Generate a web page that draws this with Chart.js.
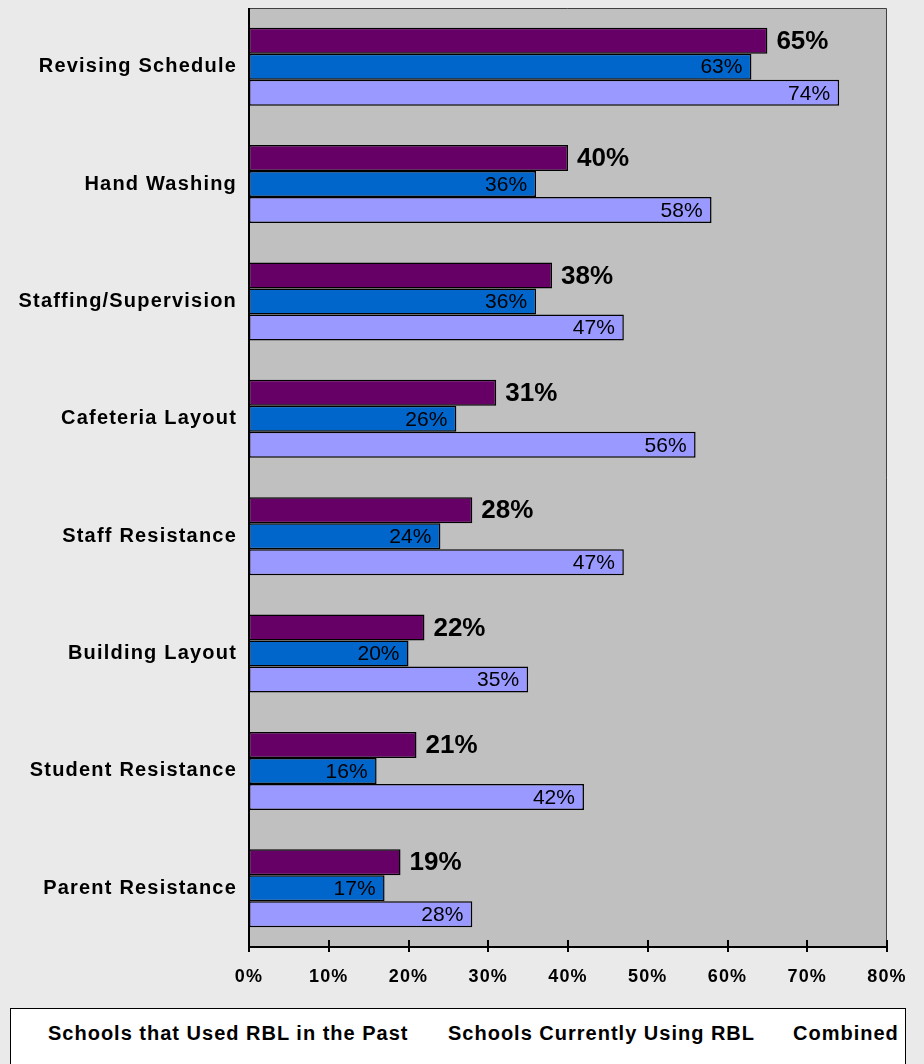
<!DOCTYPE html>
<html>
<head>
<meta charset="utf-8">
<script src="https://cdn.jsdelivr.net/npm/chart.js@4"></script>
<style>
  html, body { margin: 0; padding: 0; background: #eaeaea; overflow: hidden; }
  #wrap { position: relative; width: 924px; height: 1064px; }
  #chartBox { position: absolute; left: 0; top: 0; width: 924px; height: 1000px; }
  #legendBox {
    position: absolute; left: 10px; top: 1008px; width: 896px; height: 70px;
    background: #fff; border: 1px solid #000; box-sizing: border-box;
    font-family: "Liberation Sans", Arial, sans-serif; font-weight: bold;
    font-size: 20px; letter-spacing: 1px; color: #000;
  }
  #legendBox span { position: absolute; top: 13px; white-space: nowrap; }
</style>
</head>
<body>
<div id="wrap">
  <div id="chartBox"><canvas id="chart"></canvas></div>
  <div id="legendBox">
    <span style="left:37px">Schools that Used RBL in the Past</span>
    <span style="left:437px">Schools Currently Using RBL</span>
    <span style="left:782px">Combined</span>
  </div>
</div>
<script>
const categories = ['Revising Schedule', 'Hand Washing', 'Staffing/Supervision', 'Cafeteria Layout',
    'Staff Resistance', 'Building Layout', 'Student Resistance', 'Parent Resistance'];
const pastValues = [65, 40, 38, 31, 28, 22, 21, 19];
const currentValues = [63, 36, 36, 26, 24, 20, 16, 17];
const combinedValues = [74, 58, 47, 56, 47, 35, 42, 28];
const seriesNames = ['Schools that Used RBL in the Past', 'Schools Currently Using RBL', 'Combined'];
const xTicks = [0, 10, 20, 30, 40, 50, 60, 70, 80];

const FONT = '"Liberation Sans", Arial, sans-serif';

// plot background + frame + crossing tick marks
const plotFrame = {
    id: 'plotFrame',
    beforeDraw(chart) {
        const { ctx, chartArea: a } = chart;
        ctx.letterSpacing = '1.2px';
        ctx.save();
        ctx.fillStyle = '#c0c0c0';
        ctx.fillRect(a.left, a.top, a.right - a.left, a.bottom - a.top);
        ctx.strokeStyle = '#404040';
        ctx.lineWidth = 1;
        ctx.beginPath();
        ctx.moveTo(a.left, a.top + 0.5);
        ctx.lineTo(a.right - 0.5, a.top + 0.5);
        ctx.lineTo(a.right - 0.5, a.bottom);
        ctx.stroke();
        ctx.restore();
    },
    afterDatasetsDraw(chart) {
        const { ctx, chartArea: a } = chart;
        const xs = chart.scales.x;
        ctx.save();
        ctx.strokeStyle = '#000';
        ctx.lineWidth = 2;
        ctx.beginPath();
        ctx.moveTo(a.left, a.top);
        ctx.lineTo(a.left, a.bottom);
        ctx.lineTo(a.right, a.bottom);
        ctx.stroke();
        ctx.lineWidth = 2;
        xTicks.forEach(v => {
            const px = Math.round(xs.getPixelForValue(v));
            ctx.beginPath();
            ctx.moveTo(px, a.bottom - 7);
            ctx.lineTo(px, a.bottom + 5);
            ctx.stroke();
        });
        ctx.restore();
    }
};

// value labels on bars
const barLabels = {
    id: 'barLabels',
    afterDatasetsDraw(chart) {
        const { ctx } = chart;
        ctx.save();
        ctx.letterSpacing = '0px';
        ctx.fillStyle = '#000';
        ctx.textBaseline = 'middle';
        chart.data.datasets.forEach((ds, i) => {
            const meta = chart.getDatasetMeta(i);
            meta.data.forEach((bar, j) => {
                const txt = ds.data[j] + '%';
                if (i === 0) {
                    ctx.font = 'bold 26px ' + FONT;
                    ctx.textAlign = 'left';
                    ctx.fillText(txt, bar.x + 9, bar.y + 1);
                } else {
                    ctx.font = '21px ' + FONT;
                    ctx.textAlign = 'right';
                    ctx.fillText(txt, bar.x - 9, bar.y + 1);
                }
            });
        });
        ctx.restore();
    }
};

new Chart(document.getElementById('chart'), {
    type: 'bar',
    data: {
        labels: categories,
        datasets: [
            { label: seriesNames[0], data: pastValues, backgroundColor: '#660066' },
            { label: seriesNames[1], data: currentValues, backgroundColor: '#0066cc' },
            { label: seriesNames[2], data: combinedValues, backgroundColor: '#9999ff' }
        ]
    },
    options: {
        indexAxis: 'y',
        responsive: true,
        maintainAspectRatio: false,
        animation: false,
        devicePixelRatio: 1,
        layout: { padding: { top: 8, right: 37, left: 0, bottom: 0 } },
        datasets: {
            bar: {
                categoryPercentage: 0.665,
                barPercentage: 1.0,
                borderColor: '#000',
                borderWidth: 1.5,
                borderSkipped: false
            }
        },
        scales: {
            x: {
                min: 0,
                max: 80,
                afterFit: s => { s.height = 53; s.paddingLeft = 0; s.paddingRight = 0; },
                afterBuildTicks: s => { s.ticks = xTicks.map(v => ({ value: v })); },
                grid: { display: false, drawTicks: false },
                border: { display: false },
                ticks: {
                    padding: 19,
                    color: '#000',
                    font: { family: FONT, size: 18, weight: 'bold' },
                    callback: v => v + '%'
                }
            },
            y: {
                afterFit: s => { s.width = 249; s.paddingTop = 0; s.paddingBottom = 0; },
                grid: { display: false, drawTicks: false },
                border: { display: false },
                ticks: {
                    padding: 12,
                    color: '#000',
                    font: { family: FONT, size: 20, weight: 'bold' }
                }
            }
        },
        plugins: {
            legend: { display: false },
            tooltip: { enabled: false }
        }
    },
    plugins: [plotFrame, barLabels]
});
</script>
</body>
</html>
